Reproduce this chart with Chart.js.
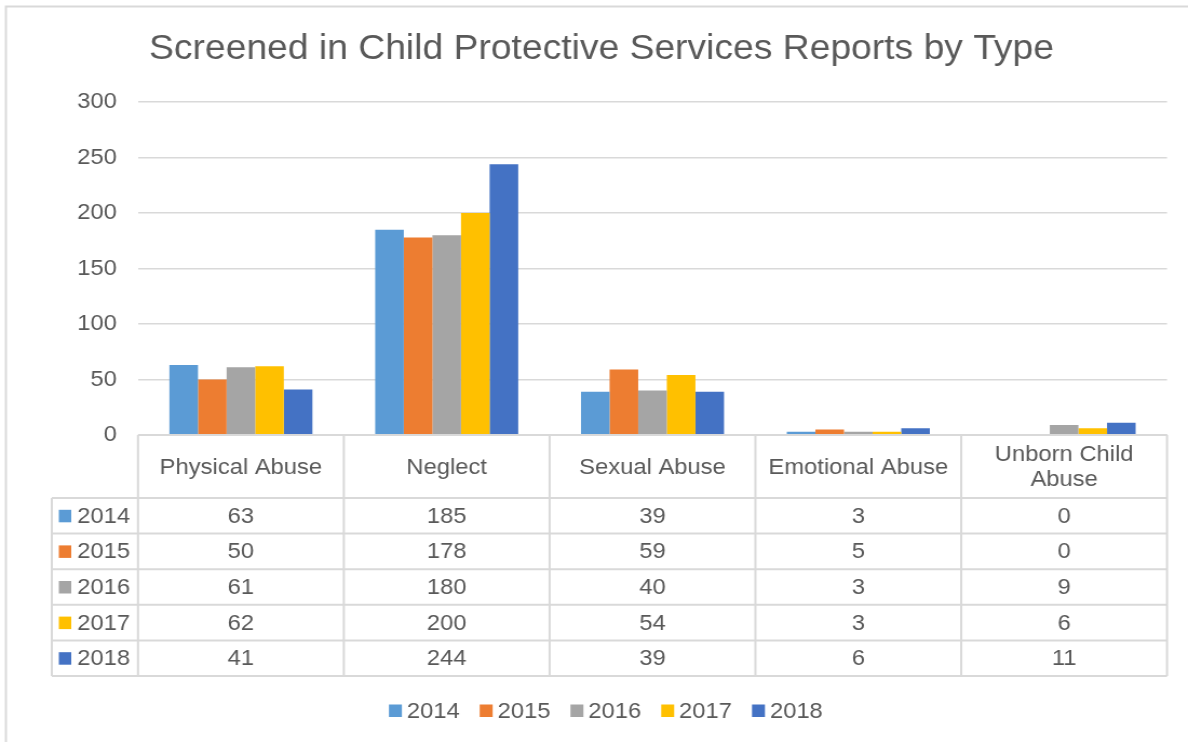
<!DOCTYPE html>
<html lang="en">
<head>
  <meta charset="UTF-8" />
  <title>Screened in Child Protective Services Reports by Type</title>
  <script src="https://cdn.jsdelivr.net/npm/chart.js"></script>
  <style>
    body {
      margin: 0;
      background: #fff;
    }

    /* drawn 1100 wide, shown at 1188 so the text gets the same wide look as the sheet export */
    #reports {
      display: block;
      width: 1188px;
      height: 742px;
      background: #fff;
    }
  </style>
</head>
<body>
  <canvas id="reports" width="1100" height="742" style="width:1188px;height:742px"></canvas>

  <script>
    const categories = ['Physical Abuse', 'Neglect', 'Sexual Abuse', 'Emotional Abuse', ['Unborn Child', 'Abuse']];
    const years = ['2014', '2015', '2016', '2017', '2018'];

    const reports2014 = [63, 185, 39, 3, 0];
    const reports2015 = [50, 178, 59, 5, 0];
    const reports2016 = [61, 180, 40, 3, 9];
    const reports2017 = [62, 200, 54, 3, 6];
    const reports2018 = [41, 244, 39, 6, 11];

    const yearColors = ['#5B9BD5', '#ED7D31', '#A5A5A5', '#FFC000', '#4472C4'];
    const yMin = 0;
    const yMax = 300;
    const yStep = 50;

    const TEXT = '#595959';
    const LINE = '#d9d9d9';
    const FONT = '"Liberation Sans", Arial, sans-serif';

    Chart.defaults.font.family = FONT;
    Chart.defaults.color = TEXT;

    const seriesValues = [reports2014, reports2015, reports2016, reports2017, reports2018];

    // Excel style data table under the plot, plus the legend row and the chart frame
    const dataTable = {
      id: 'dataTable',
      afterDraw(chart) {
        const { ctx, chartArea: area } = chart;
        const x = chart.scales.x;
        const half = (area.right - area.left) / categories.length / 2;
        const keyLeft = 48;
        const top = area.bottom;
        const headBottom = top + 63;
        const rowH = 35.6;
        const bottom = headBottom + rowH * years.length;

        ctx.save();

        // outer frame, runs off the right and bottom edge
        ctx.strokeStyle = LINE;
        ctx.lineWidth = 2;
        ctx.strokeRect(5.5, 6.5, chart.width + 20, chart.height + 20);

        // grid of the table
        ctx.lineWidth = 2;
        ctx.beginPath();
        ctx.moveTo(area.left, top);
        ctx.lineTo(area.right, top);
        for (let r = 0; r <= years.length; r++) {
          const y = headBottom + r * rowH;
          ctx.moveTo(keyLeft, y);
          ctx.lineTo(area.right, y);
        }
        ctx.moveTo(keyLeft, headBottom);
        ctx.lineTo(keyLeft, bottom);
        categories.forEach((c, i) => {
          const left = x.getPixelForValue(i) - half;
          ctx.moveTo(left, top);
          ctx.lineTo(left, bottom);
        });
        ctx.moveTo(area.right, top);
        ctx.lineTo(area.right, bottom);
        ctx.stroke();

        ctx.fillStyle = TEXT;
        ctx.font = '22px ' + FONT;
        ctx.textAlign = 'center';
        ctx.textBaseline = 'middle';

        // column headers
        const headMid = (top + headBottom) / 2;
        categories.forEach((c, i) => {
          const cx = x.getPixelForValue(i);
          const lines = Array.isArray(c) ? c : [c];
          lines.forEach((line, k) => {
            ctx.fillText(line, cx, headMid + 1 + (k - (lines.length - 1) / 2) * 25);
          });
        });

        // value rows
        chart.data.datasets.forEach((ds, r) => {
          const cy = headBottom + r * rowH + rowH / 2;
          ds.data.forEach((v, i) => {
            ctx.fillText(String(v), x.getPixelForValue(i), cy + 1);
          });
          ctx.fillStyle = ds.backgroundColor;
          ctx.fillRect(keyLeft + 6.5, cy - 6, 11.5, 12.5);
          ctx.fillStyle = TEXT;
          ctx.textAlign = 'left';
          ctx.fillText(ds.label, keyLeft + 23.5, cy + 1);
          ctx.textAlign = 'center';
        });

        // legend row
        ctx.font = '22px ' + FONT;
        ctx.textAlign = 'left';
        const box = 12;
        const gap = 18.5;
        const widths = chart.data.datasets.map(ds => box + 4.6 + ctx.measureText(ds.label).width);
        const total = widths.reduce((a, b) => a + b, 0) + gap * (widths.length - 1);
        let lx = chart.width / 2 + 11 - total / 2;
        const ly = 711;
        chart.data.datasets.forEach((ds, i) => {
          ctx.fillStyle = ds.backgroundColor;
          ctx.fillRect(lx, ly - 6.5, box, 12.5);
          ctx.fillStyle = TEXT;
          ctx.fillText(ds.label, lx + box + 4.6, ly + 1);
          lx += widths[i] + gap;
        });

        ctx.restore();
      }
    };

    new Chart(document.getElementById('reports'), {
      type: 'bar',
      data: {
        labels: categories,
        datasets: years.map((year, i) => ({
          label: year,
          data: seriesValues[i],
          backgroundColor: yearColors[i],
          borderWidth: 0,
          categoryPercentage: 0.695,
          barPercentage: 1
        }))
      },
      options: {
        responsive: false,
        animation: false,
        layout: {
          padding: { left: 33.4, right: 19.4, top: 0, bottom: 0 }
        },
        plugins: {
          legend: { display: false },
          tooltip: { enabled: false },
          title: {
            display: true,
            text: 'Screened in Child Protective Services Reports by Type',
            color: TEXT,
            font: { size: 34.5, weight: 'normal' },
            padding: { top: 29, bottom: 31.6 }
          }
        },
        scales: {
          x: {
            grid: { display: false },
            border: { display: false },
            ticks: { display: false },
            afterFit(scale) {
              scale.height = 307;
            }
          },
          y: {
            min: yMin,
            max: yMax,
            border: { display: false },
            grid: { color: LINE, lineWidth: 1.5, drawTicks: false },
            ticks: {
              stepSize: yStep,
              padding: 19.5,
              color: TEXT,
              font: { size: 22 }
            },
            afterFit(scale) {
              scale.width = 94.4;
            }
          }
        }
      },
      plugins: [dataTable]
    });
  </script>
</body>
</html>
